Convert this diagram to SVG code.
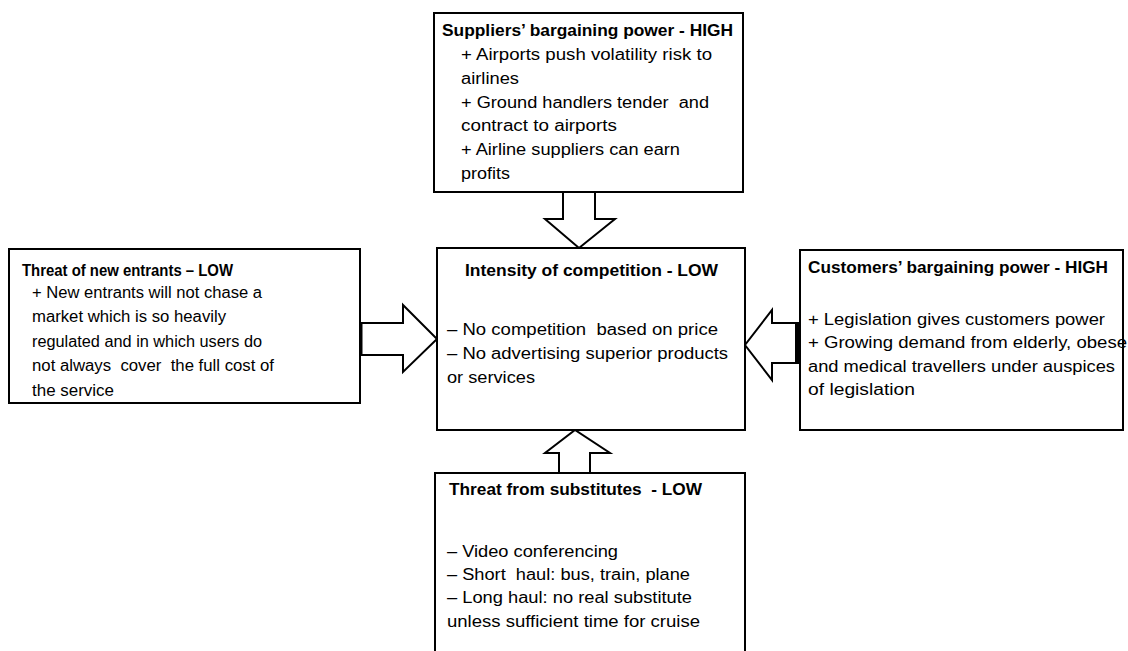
<svg xmlns="http://www.w3.org/2000/svg" width="1128" height="651" viewBox="0 0 1128 651">
<style>
.box{fill:#fff;stroke:#000;stroke-width:2}
.arr{fill:#fff;stroke:#000;stroke-width:2;stroke-linejoin:miter}
text{font-family:"Liberation Sans",Arial,sans-serif;font-size:16px;fill:#000;white-space:pre}
.t{font-weight:bold}
</style>
<rect width="1128" height="651" fill="#fff"/>
<g id="connectors">
<polygon class="arr" points="563,192 563,219 545,219 579,248 615,219 595,219 595,192"/>
<polygon class="arr" points="360,323 403,323 403,305 437,339 403,372 403,355 360,355"/>
<line x1="360" y1="323" x2="360" y2="355" stroke="#000" stroke-width="5"/>
<polygon class="arr" points="800,323 772,323 772,310 745,345 772,380 772,363 800,363"/>
<line x1="797.5" y1="323" x2="797.5" y2="363" stroke="#000" stroke-width="5"/>
<polygon class="arr" points="559,473 559,453 545,453 575,430 610,453 590,453 590,473"/>
</g>
<g id="suppliers">
<rect class="box" x="434" y="13" width="309" height="179"/>
<text class="t" x="442" y="36" textLength="291" lengthAdjust="spacingAndGlyphs">Suppliers’ bargaining power - HIGH</text>
<text x="461" y="60" textLength="251" lengthAdjust="spacingAndGlyphs">+ Airports push volatility risk to</text>
<text x="461" y="84" textLength="58" lengthAdjust="spacingAndGlyphs">airlines</text>
<text x="461" y="108" textLength="248" lengthAdjust="spacingAndGlyphs">+ Ground handlers tender  and</text>
<text x="461" y="131" textLength="156" lengthAdjust="spacingAndGlyphs">contract to airports</text>
<text x="461" y="155" textLength="219" lengthAdjust="spacingAndGlyphs">+ Airline suppliers can earn</text>
<text x="461" y="179" textLength="49" lengthAdjust="spacingAndGlyphs">profits</text>
</g>
<g id="new-entrants">
<rect class="box" x="9" y="249" width="351" height="154"/>
<text class="t" x="22" y="276" textLength="211" lengthAdjust="spacingAndGlyphs">Threat of new entrants – LOW</text>
<text x="32" y="298" textLength="230" lengthAdjust="spacingAndGlyphs">+ New entrants will not chase a</text>
<text x="32" y="322" textLength="194" lengthAdjust="spacingAndGlyphs">market which is so heavily</text>
<text x="32" y="347" textLength="230" lengthAdjust="spacingAndGlyphs">regulated and in which users do</text>
<text x="32" y="371" textLength="242" lengthAdjust="spacingAndGlyphs">not always  cover  the full cost of</text>
<text x="32" y="396" textLength="82" lengthAdjust="spacingAndGlyphs">the service</text>
</g>
<g id="competition">
<rect class="box" x="437" y="248" width="308" height="182"/>
<text class="t" x="465" y="276" textLength="253" lengthAdjust="spacingAndGlyphs">Intensity of competition - LOW</text>
<text x="447" y="335" textLength="271" lengthAdjust="spacingAndGlyphs">– No competition  based on price</text>
<text x="447" y="359" textLength="281" lengthAdjust="spacingAndGlyphs">– No advertising superior products</text>
<text x="447" y="383" textLength="88" lengthAdjust="spacingAndGlyphs">or services</text>
</g>
<g id="customers">
<rect class="box" x="800" y="250" width="323" height="180"/>
<text class="t" x="808" y="273" textLength="300" lengthAdjust="spacingAndGlyphs">Customers’ bargaining power - HIGH</text>
<text x="808" y="325" textLength="297" lengthAdjust="spacingAndGlyphs">+ Legislation gives customers power</text>
<text x="808" y="348" textLength="319" lengthAdjust="spacingAndGlyphs">+ Growing demand from elderly, obese</text>
<text x="808" y="372" textLength="307" lengthAdjust="spacingAndGlyphs">and medical travellers under auspices</text>
<text x="808" y="395" textLength="107" lengthAdjust="spacingAndGlyphs">of legislation</text>
</g>
<g id="substitutes">
<rect class="box" x="435" y="473" width="310" height="200"/>
<text class="t" x="449" y="495" textLength="253" lengthAdjust="spacingAndGlyphs">Threat from substitutes  - LOW</text>
<text x="447" y="557" textLength="171" lengthAdjust="spacingAndGlyphs">– Video conferencing</text>
<text x="447" y="580" textLength="243" lengthAdjust="spacingAndGlyphs">– Short  haul: bus, train, plane</text>
<text x="447" y="603" textLength="245" lengthAdjust="spacingAndGlyphs">– Long haul: no real substitute</text>
<text x="447" y="627" textLength="253" lengthAdjust="spacingAndGlyphs">unless sufficient time for cruise</text>
</g>
</svg>
